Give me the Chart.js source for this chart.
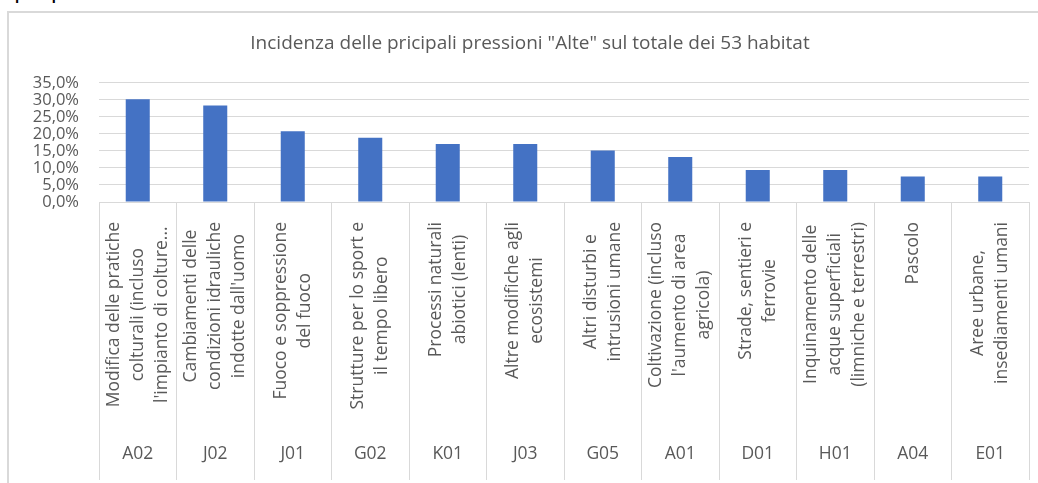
<!DOCTYPE html>
<html>
<head>
<meta charset="utf-8">
<script src="https://cdn.jsdelivr.net/npm/chart.js@4/dist/chart.umd.min.js"></script>
<style>
  html, body { margin: 0; padding: 0; background: #fff; overflow: hidden; width: 1038px; height: 483px; }
  #note { position: absolute; left: 0; top: -11px; font: bold 13.5px "Open Sans", sans-serif; line-height: 1; color: #000; white-space: nowrap; }
  #frame { position: absolute; left: 7px; top: 11px; width: 1100px; height: 520px; border-left: 2px solid #d9d9d9; border-top: 2px solid #d9d9d9; }
  #myChart { position: absolute; left: 8px; top: 12px; }
</style>
</head>
<body>
<div id="note">sopra riportate.</div>
<div id="frame"></div>
<canvas id="myChart" width="1044" height="471"></canvas>
<script>
var codes = ["A02", "J02", "J01", "G02", "K01", "J03", "G05", "A01", "D01", "H01", "A04", "E01"];
var labels = [
  ["Modifica delle pratiche", "colturali (incluso", "l'impianto di colture..."],
  ["Cambiamenti delle", "condizioni idrauliche", "indotte dall'uomo"],
  ["Fuoco e soppressione", "del fuoco"],
  ["Strutture per lo sport e", "il tempo libero"],
  ["Processi naturali", "abiotici (lenti)"],
  ["Altre modifiche agli", "ecosistemi"],
  ["Altri disturbi e", "intrusioni umane"],
  ["Coltivazione (incluso", "l'aumento di area", "agricola)"],
  ["Strade, sentieri e", "ferrovie"],
  ["Inquinamento delle", "acque superficiali", "(limniche e terrestri)"],
  ["Pascolo"],
  ["Aree urbane,", "insediamenti umani"]
];
var values = [30.2, 28.3, 20.8, 18.9, 17.0, 17.0, 15.1, 13.2, 9.4, 9.4, 7.5, 7.5];
var yMax = 35;
var yStep = 5;

var textColor = "#595959";
var gridColor = "#d9d9d9";
var fontFamily = "'Open Sans', sans-serif";

// draws the two rows of category labels (rotated names + codes)
var categoryLabels = {
  id: "categoryLabels",
  afterDraw: function (chart) {
    var ctx = chart.ctx;
    var x = chart.scales.x;
    var top = x.top + 20;
    var lineH = 24;
    ctx.save();
    ctx.fillStyle = textColor;
    ctx.font = "17.5px " + fontFamily;
    for (let i = 0; i < codes.length; i++) {
      let cx = x.getPixelForValue(i);
      let lines = labels[i];
      let maxW = 0;
      lines.forEach(function (l) { maxW = Math.max(maxW, ctx.measureText(l).width); });
      ctx.save();
      ctx.translate(cx, top);
      ctx.rotate(-Math.PI / 2);
      ctx.textAlign = "center";
      ctx.textBaseline = "middle";
      for (let k = 0; k < lines.length; k++) {
        ctx.fillText(lines[k], -maxW / 2, (k - (lines.length - 1) / 2) * lineH);
      }
      ctx.restore();
      ctx.textAlign = "center";
      ctx.textBaseline = "middle";
      ctx.fillText(codes[i], cx, x.top + 252);
    }
    ctx.restore();
  }
};

new Chart("myChart", {
  type: "bar",
  data: {
    labels: codes,
    datasets: [{
      data: values,
      backgroundColor: "#4472c4",
      barPercentage: 0.31,
      categoryPercentage: 1
    }]
  },
  options: {
    responsive: false,
    animation: false,
    layout: { padding: { left: 23, right: 23, top: 0, bottom: 3 } },
    plugins: {
      legend: { display: false },
      tooltip: { enabled: false },
      title: {
        display: true,
        text: 'Incidenza delle pricipali pressioni "Alte" sul totale dei 53 habitat',
        color: textColor,
        font: { family: fontFamily, size: 19, weight: "normal", lineHeight: 1.2 },
        padding: { top: 20, bottom: 28 }
      }
    },
    scales: {
      x: {
        ticks: { display: false },
        grid: { drawOnChartArea: false, drawTicks: true, tickLength: 278, color: gridColor, offset: true },
        border: { color: gridColor }
      },
      y: {
        min: 0,
        max: yMax,
        ticks: {
          stepSize: yStep,
          autoSkip: false,
          padding: 20,
          color: textColor,
          font: { family: fontFamily, size: 16.5, lineHeight: 1 },
          callback: function (v) { return v.toFixed(1).replace(".", ",") + "%"; }
        },
        grid: { color: gridColor, drawTicks: false },
        border: { display: false },
        afterFit: function (scale) { scale.width = 68; }
      }
    }
  },
  plugins: [categoryLabels]
});
</script>
</body>
</html>
